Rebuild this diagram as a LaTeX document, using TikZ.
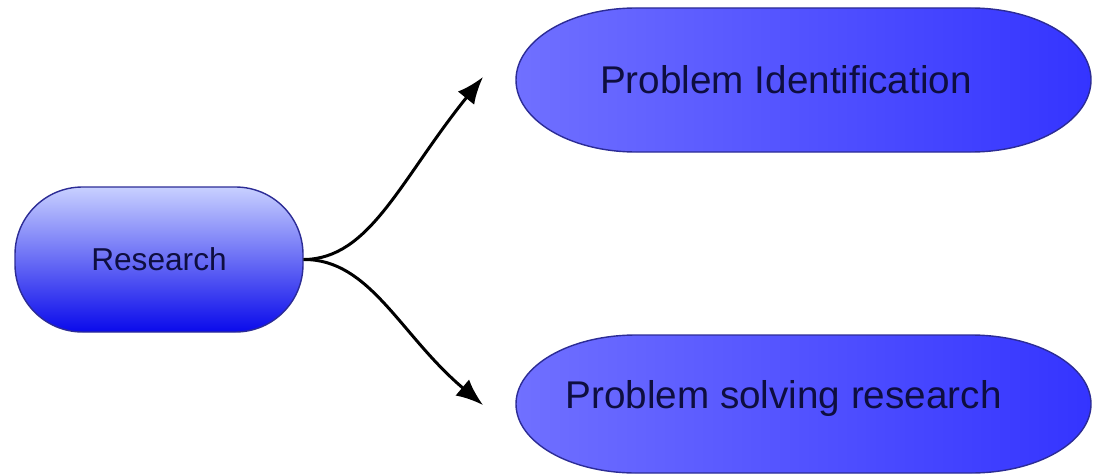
\documentclass[tikz,border=0pt]{standalone}
\usepackage{fontspec}
\setmainfont{Liberation Sans}
\usepackage{xcolor}
\usepackage{tikz}
\usetikzlibrary{positioning,arrows.meta,calc}
\definecolor{rTop}{RGB}{200,208,255}
\definecolor{rMid}{RGB}{112,118,255}
\definecolor{rBot}{RGB}{10,10,235}
\definecolor{pLeft}{RGB}{112,112,255}
\definecolor{pRight}{RGB}{52,52,255}
\definecolor{bLine}{RGB}{44,44,150}
\definecolor{tNavy}{RGB}{14,14,64}
\tikzset{
  resbox/.style={rectangle, rounded corners=1.35cm, draw=bLine, line width=0.8pt,
                 top color=rTop, middle color=rMid, bottom color=rBot,
                 minimum width=5.76cm, minimum height=2.9cm, align=center,
                 text=tNavy, font=\fontsize{18}{21}\selectfont},
  pillfill/.style={draw=bLine, line width=0.8pt, left color=pLeft, right color=pRight},
  pilltext/.style={text=tNavy, font=\fontsize{22}{26}\selectfont, inner sep=0pt},
  flow/.style={-{Latex[length=5.4mm,width=4.2mm]}, draw=black, line width=1.7pt},
}
\begin{document}
\begin{tikzpicture}
  \useasboundingbox (0,0) rectangle (21.92,-9.5);

  % --- the two target pills ---
  \path[pillfill] (12.72,-0.16) -- (19.42,-0.16)
    arc[start angle=90,end angle=-90,x radius=2.4cm,y radius=1.44cm]
    -- (12.72,-3.04)
    arc[start angle=270,end angle=90,x radius=2.4cm,y radius=1.44cm] -- cycle;
  \path[pillfill] (12.72,-6.70) -- (19.42,-6.70)
    arc[start angle=90,end angle=-90,x radius=2.4cm,y radius=1.38cm]
    -- (12.72,-9.46)
    arc[start angle=270,end angle=90,x radius=2.4cm,y radius=1.38cm] -- cycle;

  \node[resbox] (res) at (3.18,-5.19) {Research};
  \node[pilltext] (probid) at (15.72,-1.6) {Problem Identification};
  \node[pilltext] (probsolve) at (15.67,-7.96) {Problem solving research};

  % arrow ends stop short of the pills
  \coordinate (idin) at (9.66,-1.54);
  \coordinate (solvein) at (9.66,-8.1);

  \draw[flow] (res.east) .. controls (7.4,-5.18) and (8.0,-3.6) .. (idin);
  \draw[flow] (res.east) .. controls (7.4,-5.18) and (8.0,-6.7) .. (solvein);
\end{tikzpicture}
\end{document}
